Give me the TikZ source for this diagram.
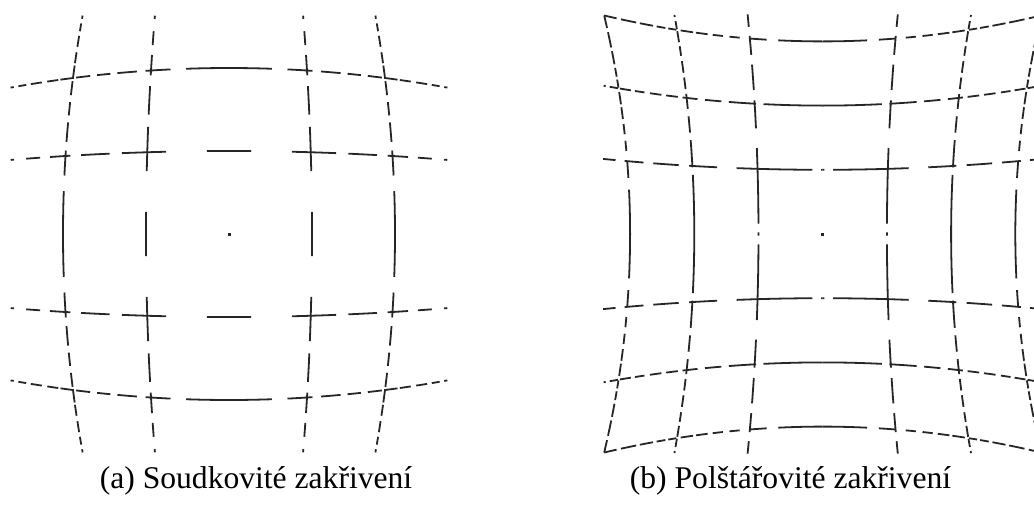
\documentclass[tikz,border=0pt]{standalone}
\usepackage{fontspec}
\setmainfont{Liberation Serif}

\tikzset{
  gridline/.style={line width=1.8pt, draw=black!85, line cap=butt},
  distdash/.style={gridline, samples=6, variable=\q},
  caption/.style={font=\fontsize{31.6}{38}\selectfont, anchor=base, inner sep=0pt},
}

% distorted grid lines u=c and v=c, drawn dash by dash (each dash also mirrored)
% #1,#2 centre, #3 scale, #4 distortion, #5 line positions, #6 dashes t1/t2
\newcommand{\distlines}[6]{%
  \foreach \c in {#5}{
    \foreach \ta/\tb in {#6}{
      % horizontal line v=c
      \draw[distdash, domain=\ta:\tb]   plot ({#1+(\q)*(#3+(#4)*(\c)*(\c))}, {#2+(\c)*(#3+(#4)*(\q)*(\q))});
      \draw[distdash, domain=-\tb:-\ta] plot ({#1+(\q)*(#3+(#4)*(\c)*(\c))}, {#2+(\c)*(#3+(#4)*(\q)*(\q))});
      % vertical line u=c
      \draw[distdash, domain=\ta:\tb]   plot ({#1+(\c)*(#3+(#4)*(\q)*(\q))}, {#2+(\q)*(#3+(#4)*(\c)*(\c))});
      \draw[distdash, domain=-\tb:-\ta] plot ({#1+(\c)*(#3+(#4)*(\q)*(\q))}, {#2+(\q)*(#3+(#4)*(\c)*(\c))});
    }
  }
}

\begin{document}
\begin{tikzpicture}[x=1pt, y=-1pt]
  \useasboundingbox (0,0) rectangle (1034,504);

  % (a) barrel
  \distlines{229}{234}{83}{-1.25}{-1,1}{0/0.27, 0.77/1.31, 1.46/1.81, 1.94/2.19, 2.31/2.48, 2.63/2.67}
  \distlines{229}{234}{83}{-1.25}{-2,2}{0/0.55, 0.75/1.07, 1.18/1.43, 1.52/1.69, 1.78/1.96, 1.99/2.16, 2.19/2.33, 2.40/2.54, 2.60/2.70, 2.76/2.80}
  \fill[black!85] (227.5,232.5) rectangle (230.5,235.5);

  % (b) pincushion
  \distlines{822.7}{234}{64.2}{0.96}{-1,1}{0/0.025, 0.16/1.32, 1.62/2.05, 2.21/2.60, 2.75/3.04, 3.18/3.37}
  \distlines{822.7}{234}{64.2}{0.96}{-2,2}{0/0.87, 0.98/1.38, 1.49/1.73, 1.84/2.06, 2.13/2.30, 2.37/2.54, 2.62/2.76, 2.82/2.98, 3.01/3.13, 3.19/3.22}
  \distlines{822.7}{234}{64.2}{0.96}{-3,3}{0/0.61, 0.77/1.00, 1.14/1.28, 1.37/1.51, 1.58/1.74, 1.78/1.95, 2.01/2.12, 2.16/2.28, 2.33/2.51, 2.56/2.77, 2.83/3.00}
  \fill[black!85] (821.2,232.5) rectangle (824.2,235.5);

  \node[caption] (capA) at (256,488) {(a) Soudkovité zakřivení};
  \node[caption] (capB) at (790.5,488) {(b) Polštářovité zakřivení};
\end{tikzpicture}
\end{document}
